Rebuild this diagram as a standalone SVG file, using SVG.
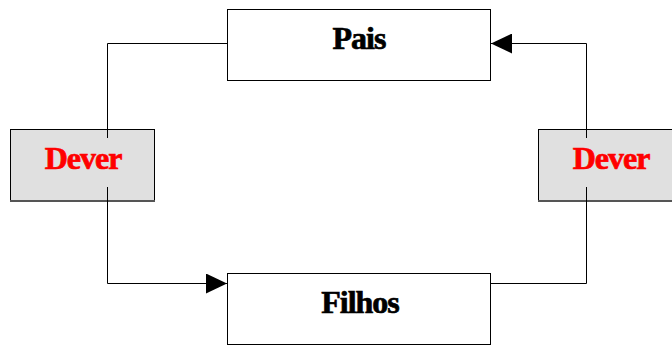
<svg xmlns="http://www.w3.org/2000/svg" width="672" height="346" viewBox="0 0 672 346">
<style>
.box{fill:#fff;stroke:#000;stroke-width:1}
.dbox{fill:#e0e0e0;stroke:#000;stroke-width:1}
.shadow{stroke:#555;stroke-width:2}
.t{font-family:"Liberation Serif","Times New Roman",serif;font-weight:bold;font-size:32px;text-anchor:middle;letter-spacing:-1px;fill:#000;stroke:#000;stroke-width:0.7px}
.red{fill:#ff0000;stroke:#ff0000}
.conn{fill:none;stroke:#000;stroke-width:1}
</style>
<defs>
<marker id="ah" markerWidth="21" markerHeight="20" refX="21" refY="10" orient="auto" markerUnits="userSpaceOnUse">
<path d="M0,0 L21,10 L0,20 Z" fill="#000"/>
</marker>
</defs>
<g id="node-pais">
<rect class="box" x="227.5" y="9.5" width="263" height="71"/>
<text class="t" x="359" y="49">Pais</text>
</g>
<g id="node-filhos">
<rect class="box" x="227.5" y="273.5" width="263" height="71"/>
<text class="t" x="360" y="313">Filhos</text>
</g>
<g id="node-dever-left">
<rect class="dbox" x="10.5" y="129.5" width="144" height="71"/>
<line class="shadow" x1="10" y1="201" x2="155" y2="201"/>
<text class="t red" x="83" y="169">Dever</text>
</g>
<g id="node-dever-right">
<rect class="dbox" x="538.5" y="129.5" width="150" height="71"/>
<line class="shadow" x1="538" y1="201" x2="672" y2="201"/>
<text class="t red" x="611" y="169">Dever</text>
</g>
<g id="connectors">
<path class="conn" d="M227,43.5 H107.5 V138"/>
<path class="conn" d="M107.5,187 V283.5 H227" marker-end="url(#ah)"/>
<path class="conn" d="M491,283.5 H586.5 V187"/>
<path class="conn" d="M586.5,138 V43.5 H491" marker-end="url(#ah)"/>
</g>
</svg>
